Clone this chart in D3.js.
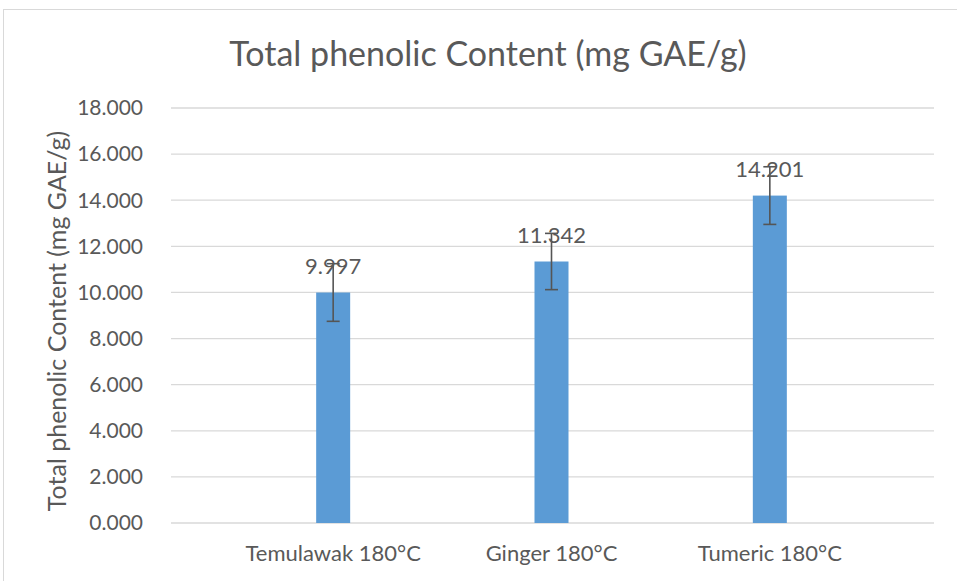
<!DOCTYPE html>
<html>
<head>
<meta charset="utf-8">
<script src="https://cdn.jsdelivr.net/npm/d3@7"></script>
<style>
  body { margin: 0; background: #fff; }
  text { font-family: Lato, "Liberation Sans", sans-serif; fill: #595959; }
</style>
</head>
<body>
<div class="canvas"></div>
<script>
// Data
const categories = ['Temulawak 180°C', 'Ginger 180°C', 'Tumeric 180°C'];
const values = [9.997, 11.342, 14.201];
const errors = [1.25, 1.22, 1.25];
const yTicks = [0, 2, 4, 6, 8, 10, 12, 14, 16, 18];

const width = 957, height = 581;

const svg = d3.select('.canvas')
    .append('svg')
        .attr('width', width)
        .attr('height', height)

// Chart border
svg.append('rect')
    .attr('x', 3.5)
    .attr('y', 9.5)
    .attr('width', width)
    .attr('height', height)
    .attr('fill', 'none')
    .attr('stroke', '#d9d9d9')

const plot = {left: 171, right: 934, top: 108, bottom: 523};

const y = d3.scaleLinear()
    .domain([0, 18])
    .range([plot.bottom, plot.top])

const x = d3.scaleBand()
    .domain(categories)
    .range([224, 879])
    .padding(0)

const barWidth = 34;

// Gridlines
svg.append('g')
    .selectAll('line')
    .data(yTicks)
    .enter()
    .append('line')
        .attr('x1', plot.left)
        .attr('x2', plot.right)
        .attr('y1', d => y(d))
        .attr('y2', d => y(d))
        .attr('stroke', '#d9d9d9')
        .attr('stroke-width', 1.3)

// Y tick labels
svg.append('g')
    .selectAll('text')
    .data(yTicks)
    .enter()
    .append('text')
        .attr('x', 143)
        .attr('y', d => y(d))
        .attr('dy', '0.35em')
        .attr('text-anchor', 'end')
        .style('font-size', '21px')
        .text(d => d3.format('.3f')(d))

// Bars
const data = categories.map((c, i) => ({cat: c, value: values[i], err: errors[i]}));

svg.append('g')
    .selectAll('rect')
    .data(data)
    .enter()
    .append('rect')
        .attr('x', d => x(d.cat) + x.bandwidth() / 2 - barWidth / 2)
        .attr('y', d => y(d.value))
        .attr('width', barWidth)
        .attr('height', d => y(0) - y(d.value))
        .attr('fill', '#5b9bd5')

// Error bars
const eb = svg.append('g')
    .attr('stroke', '#555555')
    .attr('stroke-width', 1.6)

eb.selectAll('.stem')
    .data(data)
    .enter()
    .append('line')
        .attr('x1', d => x(d.cat) + x.bandwidth() / 2)
        .attr('x2', d => x(d.cat) + x.bandwidth() / 2)
        .attr('y1', d => y(d.value + d.err))
        .attr('y2', d => y(d.value - d.err))

eb.selectAll('.cap')
    .data(data.flatMap(d => [{cat: d.cat, v: d.value + d.err}, {cat: d.cat, v: d.value - d.err}]))
    .enter()
    .append('line')
        .attr('x1', d => x(d.cat) + x.bandwidth() / 2 - 6.5)
        .attr('x2', d => x(d.cat) + x.bandwidth() / 2 + 6.5)
        .attr('y1', d => y(d.v))
        .attr('y2', d => y(d.v))

// Data labels
svg.append('g')
    .selectAll('text')
    .data(data)
    .enter()
    .append('text')
        .attr('x', d => x(d.cat) + x.bandwidth() / 2)
        .attr('y', d => y(d.value) - 19)
        .attr('text-anchor', 'middle')
        .style('font-size', '22px')
        .text(d => d3.format('.3f')(d.value))

// X labels
svg.append('g')
    .selectAll('text')
    .data(categories)
    .enter()
    .append('text')
        .attr('x', d => x(d) + x.bandwidth() / 2)
        .attr('y', 561)
        .attr('text-anchor', 'middle')
        .style('font-size', '22px')
        .text(d => d)

// Title
svg.append('text')
    .attr('x', 488)
    .attr('y', 66)
    .attr('text-anchor', 'middle')
    .style('font-size', '34px')
    .text('Total phenolic Content (mg GAE/g)')

// Y axis title
svg.append('text')
    .attr('transform', `translate(66, 321) rotate(-90)`)
    .attr('text-anchor', 'middle')
    .style('font-size', '25px')
    .text('Total phenolic Content (mg GAE/g)')
</script>
</body>
</html>
